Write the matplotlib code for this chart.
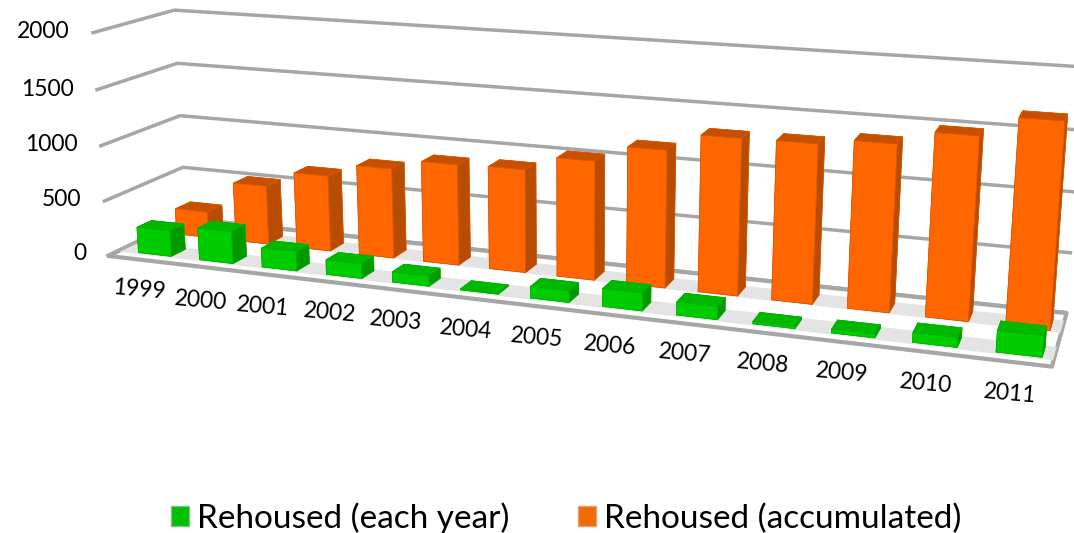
"""Rehoused per year / accumulated, 3D clustered columns."""
import matplotlib
matplotlib.use("Agg")
import matplotlib.pyplot as plt
from matplotlib.patches import Patch
from mpl_toolkits.mplot3d.art3d import Poly3DCollection
import numpy as np

years = ["1999", "2000", "2001", "2002", "2003", "2004", "2005",
         "2006", "2007", "2008", "2009", "2010", "2011"]
each_year = [235, 290, 170, 130, 90, 10, 100, 150, 110, 20, 30, 80, 170]
accumulated = [240, 540, 690, 810, 900, 910, 1040, 1185, 1335, 1340, 1390, 1505, 1670]
z_ticks = [0, 500, 1000, 1500, 2000]
series_names = ["Rehoused (each year)", "Rehoused (accumulated)"]

# label anchors, pixels from the top left of the picture
year_label_px = [(139, 290), (201, 301), (263, 307), (330, 313), (396, 321), (466, 330), (537, 338),
                 (610, 346), (685, 354), (763, 364), (842, 373), (926, 384), (1010, 394)]
tick_label_px = [(86, 254), (81, 199), (78, 144), (74, 89), (70, 31)]

FONT = "Lato"
GREEN = ["#00a000", "#00b800", "#00cc00", "#00cc00", "#00cc00", "#009a00"]
ORANGE = ["#a84800", "#c45000", "#ff6600", "#ff6600", "#ff6600", "#b84c00"]
GRID = "#a6a6a6"
W, H = 1074, 533

fig = plt.figure(figsize=(W / 100, H / 100), dpi=100)
fig.patch.set_facecolor("white")
# camera fitted against the floor and wall corners of the reference
ax = fig.add_axes([0.05078, -0.26749, 0.92091, 1.85565], projection="3d",
                  computed_zorder=False)
ax.set_xlim3d(0, 13, view_margin=0)
ax.set_ylim3d(0, 1, view_margin=0)
ax.set_zlim3d(0, 2000, view_margin=0)
ax.view_init(elev=14.248, azim=-69.938, roll=0.044)
ax.set_proj_type("persp", focal_length=float(np.exp(-1.1056)))
ax.set_box_aspect((1, float(np.exp(-1.8428)), float(np.exp(-1.4003))))
ax.set_axis_off()

n = len(years)

# floor plate, with the grey shading along the two rows
floor = Poly3DCollection([[(0, 0, 0), (n, 0, 0), (n, 1, 0), (0, 1, 0)]],
                         facecolor="white", edgecolor=GRID, linewidth=3, zorder=1, clip_on=False)
ax.add_collection3d(floor)
for y0, y1 in [(0.1, 0.34), (0.6, 0.84)]:
    strip = Poly3DCollection([[(0, y0, 0), (n, y0, 0), (n, y1, 0), (0, y1, 0)]],
                             facecolor="#e4e4e4", edgecolor="none", zorder=1.5, clip_on=False)
    ax.add_collection3d(strip)

# grid on the left and back walls
for z in z_ticks:
    ax.plot([0, 0, n], [0, 1, 1], [z, z, z], color=GRID, lw=2.5, zorder=2, clip_on=False)

xpos = np.arange(n) + 0.33
width = 0.54
orange_bars = ax.bar3d(xpos, np.full(n, 0.62), np.zeros(n), width, 0.2, accumulated,
                       color=ORANGE * n, shade=False, zorder=3, edgecolor="#d95700", linewidth=0.5)
green_bars = ax.bar3d(xpos, np.full(n, 0.13), np.zeros(n), width, 0.18, each_year,
                      color=GREEN * n, shade=False, zorder=4, edgecolor="#00b000", linewidth=0.5)
orange_bars.set_clip_on(False)
green_bars.set_clip_on(False)

for label, (px, py) in zip(years, year_label_px):
    fig.text(px / W, 1 - py / H, label, fontsize=16.5, family=FONT, rotation=-5,
             rotation_mode="anchor", ha="center", va="center", color="black")

for value, (px, py) in zip(z_ticks, tick_label_px):
    fig.text(px / W, 1 - py / H, str(value), fontsize=16.5, family=FONT,
             ha="right", va="center", color="black")

handles = [Patch(facecolor="#00c000", edgecolor="#7fbf7f"),
           Patch(facecolor="#f26a00", edgecolor="#e0a070")]
fig.legend(handles, series_names, loc="center", bbox_to_anchor=(566 / W, 1 - 518 / H),
           ncol=2, frameon=False, prop={"family": FONT, "size": 24},
           handlelength=0.54, handleheight=0.54, handletextpad=0.24, columnspacing=2.07)

fig.savefig("out.png", dpi=100)
